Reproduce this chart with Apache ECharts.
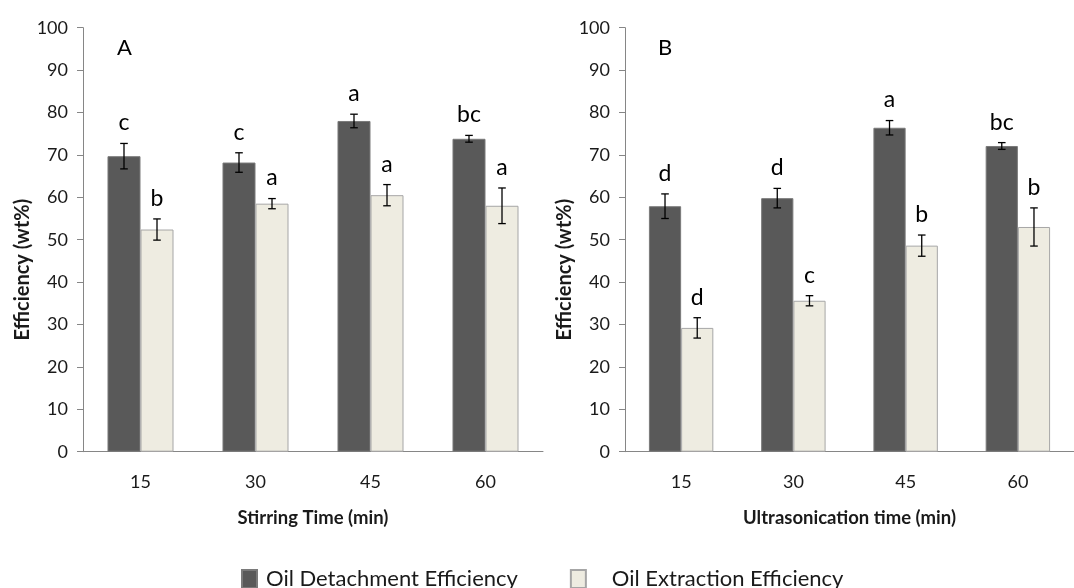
<!DOCTYPE html>
<html>
<head>
<meta charset="utf-8">
<script src="https://cdn.jsdelivr.net/npm/echarts@6/dist/echarts.min.js"></script>
<style>
  html, body { margin: 0; padding: 0; background: #fff; }
  #chart { width: 1074px; height: 588px; }
</style>
</head>
<body>
<div id="chart"></div>
<script>
// Time points (min)
const categories = ['15', '30', '45', '60'];
const yTicks = [0, 10, 20, 30, 40, 50, 60, 70, 80, 90, 100];

// Panel A: stirring time
const detachA = [69.7, 68.2, 78.0, 73.8];
const detachAErr = [3.0, 2.3, 1.6, 0.8];
const detachALetters = ['c', 'c', 'a', 'bc'];
const extractA = [52.4, 58.5, 60.5, 58.0];
const extractAErr = [2.5, 1.2, 2.5, 4.2];
const extractALetters = ['b', 'a', 'a', 'a'];

// Panel B: ultrasonication time
const detachB = [57.9, 59.8, 76.4, 72.1];
const detachBErr = [2.9, 2.3, 1.7, 0.8];
const detachBLetters = ['d', 'd', 'a', 'bc'];
const extractB = [29.2, 35.6, 48.6, 53.0];
const extractBErr = [2.4, 1.2, 2.5, 4.5];
const extractBLetters = ['d', 'c', 'b', 'b'];

const seriesNames = ['Oil Detachment Efficiency', 'Oil Extraction Efficiency'];

const FONT = 'Lato, "Open Sans", sans-serif';
const AXIS_COLOR = '#868686';
const TEXT_COLOR = '#1a1a1a';
const BAR_WIDTH_RATIO = 0.287;

function barSeries(name, values, gridIndex, dark) {
  return {
    name: name,
    type: 'bar',
    xAxisIndex: gridIndex,
    yAxisIndex: gridIndex,
    data: values,
    barWidth: (BAR_WIDTH_RATIO * 100) + '%',
    barGap: '0%',
    itemStyle: dark
      ? { color: '#595959', borderColor: '#7a7a7a', borderWidth: 1 }
      : { color: '#EEECE1', borderColor: '#A6A6A6', borderWidth: 1 },
    z: 2
  };
}

// Error bars plus significance letters, offset to sit on the left/right bar of each pair
function errorSeries(values, errs, letters, gridIndex, side) {
  return {
    type: 'custom',
    name: 'err-' + gridIndex + '-' + side,
    xAxisIndex: gridIndex,
    yAxisIndex: gridIndex,
    z: 4,
    silent: true,
    encode: { x: 0, y: 1 },
    data: values.map((v, i) => [i, v, errs[i]]),
    renderItem: function (params, api) {
      const idx = api.value(0);
      const v = api.value(1);
      const e = api.value(2);
      const band = api.size([1, 0])[0];
      const off = side * band * BAR_WIDTH_RATIO / 2;
      const top = api.coord([idx, v + e]);
      const bot = api.coord([idx, v - e]);
      const x = top[0] + off;
      const cap = 3.8;
      const ls = { stroke: '#000', lineWidth: 1.3 };
      return {
        type: 'group',
        children: [
          { type: 'line', shape: { x1: x, y1: top[1], x2: x, y2: bot[1] }, style: ls },
          { type: 'line', shape: { x1: x - cap, y1: top[1], x2: x + cap, y2: top[1] }, style: ls },
          { type: 'line', shape: { x1: x - cap, y1: bot[1], x2: x + cap, y2: bot[1] }, style: ls },
          {
            type: 'text',
            style: {
              text: letters[params.dataIndex],
              x: x,
              y: top[1] - 9,
              align: 'center',
              verticalAlign: 'bottom',
              fontSize: 23,
              fontFamily: FONT,
              fill: '#000'
            }
          }
        ]
      };
    }
  };
}

function xAxis(gridIndex, title) {
  return {
    type: 'category',
    gridIndex: gridIndex,
    data: categories,
    name: title,
    nameLocation: 'middle',
    nameGap: 57,
    nameTextStyle: { fontFamily: FONT, fontSize: 18.5, fontWeight: 'bold', color: TEXT_COLOR },
    axisLine: { lineStyle: { color: AXIS_COLOR, width: 1 } },
    axisTick: { length: 8, lineStyle: { color: AXIS_COLOR } },
    axisLabel: { fontFamily: FONT, fontSize: 18, color: TEXT_COLOR, margin: 21 },
    splitLine: { show: false }
  };
}

function yAxis(gridIndex) {
  return {
    type: 'value',
    gridIndex: gridIndex,
    min: yTicks[0],
    max: yTicks[yTicks.length - 1],
    interval: yTicks[1] - yTicks[0],
    name: 'Efficiency (wt%)',
    nameLocation: 'middle',
    nameGap: 50,
    nameTextStyle: { fontFamily: FONT, fontSize: 20, fontWeight: 'bold', color: TEXT_COLOR, padding: [0, 60, 0, 0] },
    axisLine: { show: true, lineStyle: { color: AXIS_COLOR, width: 1 } },
    axisTick: { show: true, length: 6, lineStyle: { color: AXIS_COLOR } },
    axisLabel: { fontFamily: FONT, fontSize: 18, color: TEXT_COLOR, margin: 15 },
    splitLine: { show: false }
  };
}

const chart = echarts.init(document.getElementById('chart'), null, { renderer: 'canvas' });

chart.setOption({
  backgroundColor: '#ffffff',
  animation: false,
  title: [
    { text: 'A', left: 117, top: 37, padding: 0, textStyle: { fontFamily: FONT, fontSize: 22, fontWeight: 'normal', color: '#000' } },
    { text: 'B', left: 658, top: 37, padding: 0, textStyle: { fontFamily: FONT, fontSize: 22, fontWeight: 'normal', color: '#000' } }
  ],
  legend: {
    data: [
      { name: seriesNames[0], textStyle: { padding: [0, 0, 0, 4] } },
      { name: seriesNames[1], textStyle: { padding: [0, 0, 0, 21] } }
    ],
    left: 236,
    top: 563,
    icon: 'rect',
    itemWidth: 15,
    itemHeight: 18,
    itemGap: 52,
    textStyle: { fontFamily: FONT, fontSize: 22, color: TEXT_COLOR },
    selectedMode: false
  },
  grid: [
    { left: 83, top: 27.7, right: 531, bottom: 136.3, containLabel: false },
    { left: 625, top: 27.7, right: -11, bottom: 136.3, containLabel: false }
  ],
  xAxis: [xAxis(0, 'Stirring Time (min)'), xAxis(1, 'Ultrasonication time (min)')],
  yAxis: [yAxis(0), yAxis(1)],
  series: [
    barSeries(seriesNames[0], detachA, 0, true),
    barSeries(seriesNames[1], extractA, 0, false),
    barSeries(seriesNames[0], detachB, 1, true),
    barSeries(seriesNames[1], extractB, 1, false),
    errorSeries(detachA, detachAErr, detachALetters, 0, -1),
    errorSeries(extractA, extractAErr, extractALetters, 0, 1),
    errorSeries(detachB, detachBErr, detachBLetters, 1, -1),
    errorSeries(extractB, extractBErr, extractBLetters, 1, 1)
  ]
});
</script>
</body>
</html>
